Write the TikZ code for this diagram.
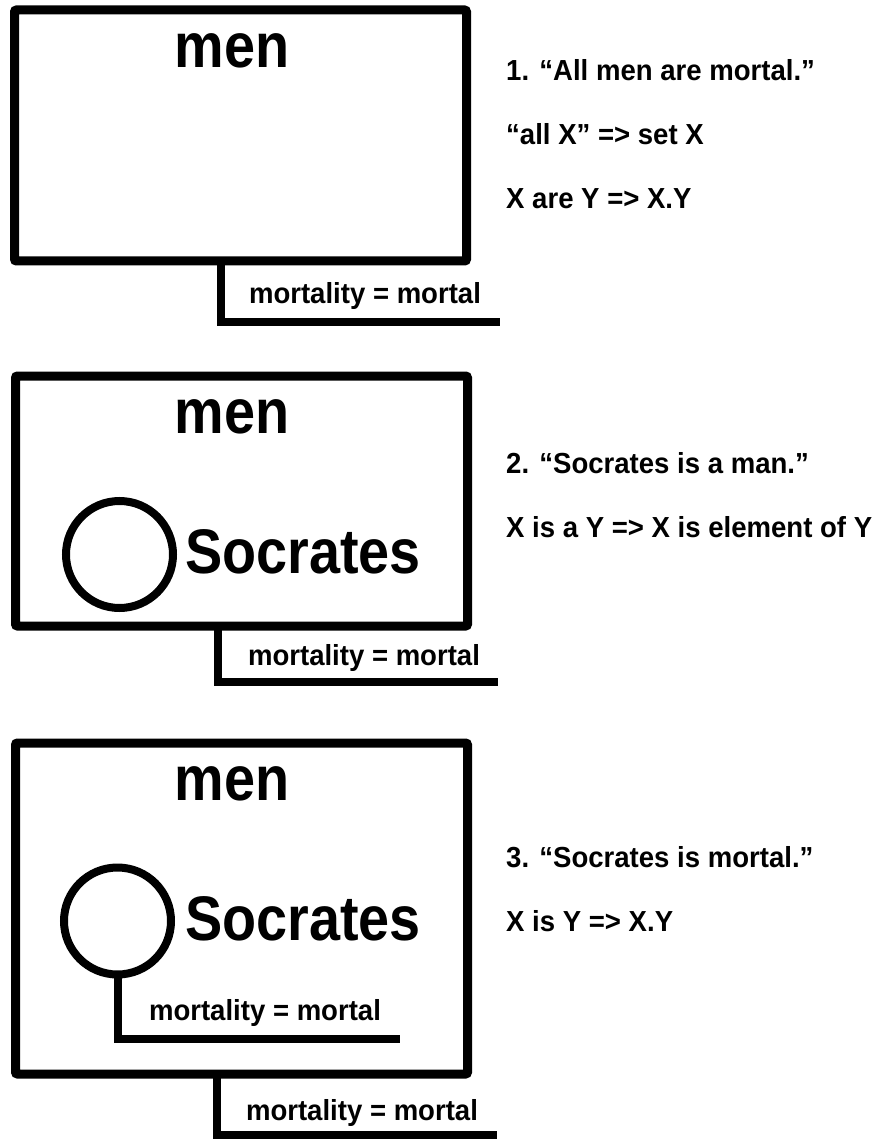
\documentclass[tikz,border=0pt]{standalone}
\usepackage{fontspec}
\newfontfamily\bigfont[FakeStretch=0.885]{Liberation Sans Bold}
\newfontfamily\smallfont[FakeStretch=0.95]{Liberation Sans Bold}
\usetikzlibrary{positioning,calc}

\begin{document}
\begin{tikzpicture}[x=1pt,y=-1pt,
setbox/.style={draw,line width=9pt,rounded corners=2pt,outer sep=0pt,inner sep=0pt,minimum width=452pt,minimum height=251pt},
elem/.style={draw,circle,line width=8pt,outer sep=0pt,inner sep=0pt,minimum size=107pt},
tail/.style={line width=8pt},
bigtxt/.style={inner sep=0pt,anchor=base,font=\bigfont\fontsize{63}{70}\selectfont},
proptxt/.style={inner sep=0pt,anchor=base,font=\smallfont\fontsize{29}{34}\selectfont},
rule/.style={inner sep=0pt,anchor=base west,font=\smallfont\fontsize{29}{34}\selectfont}]
\useasboundingbox (0,0) rectangle (883,1139);
% 1. all men are mortal
\node[setbox] (men1) at (240.5,135.5) {};
\node[bigtxt] (men1t) at (232,68) {men};
\coordinate (end1) at (500,322);
\draw[tail] ([xshift=206.5pt]men1.south west) |- (end1);
\node[proptxt] (mort1) at (365,303) {mortality = mortal};
\node[rule] (r1a) at (506,81) {1. “All men are mortal.”};
\node[rule] (r1b) at ([yshift=-64pt]r1a.base west) {“all X” => set X};
\node[rule] (r1c) at ([yshift=-64pt]r1b.base west) {X are Y => X.Y};
% 2. socrates is a man
\node[setbox,minimum height=250pt] (men2) at (241.5,501) {};
\node[bigtxt] (men2t) at (232,433) {men};
\node[elem] (soc2) at (119.5,554.5) {};
\node[bigtxt,anchor=base west] (soc2t) at (185,573) {Socrates};
\coordinate (end2) at (498,682);
\draw[tail] ([xshift=202pt]men2.south west) |- (end2);
\node[proptxt] (mort2) at (364,665) {mortality = mortal};
\node[rule] (r2a) at (506,473) {2. “Socrates is a man.”};
\node[rule] (r2b) at ([yshift=-64pt]r2a.base west) {X is a Y => X is element of Y};
% 3. socrates is mortal
\node[setbox,minimum height=331pt] (men3) at (241.5,908.5) {};
\node[bigtxt] (men3t) at (232,800) {men};
\node[elem] (soc3) at (117.5,921) {};
\node[bigtxt,anchor=base west] (soc3t) at (185,940) {Socrates};
\coordinate (end3a) at (400,1039);
\draw[tail] (soc3.south) |- (end3a);
\node[proptxt] (mort3a) at (265,1020) {mortality = mortal};
\coordinate (end3b) at (497,1135);
\draw[tail] ([xshift=201pt]men3.south west) |- (end3b);
\node[proptxt] (mort3b) at (362,1120) {mortality = mortal};
\node[rule] (r3a) at (506,867) {3. “Socrates is mortal.”};
\node[rule] (r3b) at ([yshift=-64pt]r3a.base west) {X is Y => X.Y};
\end{tikzpicture}
\end{document}
